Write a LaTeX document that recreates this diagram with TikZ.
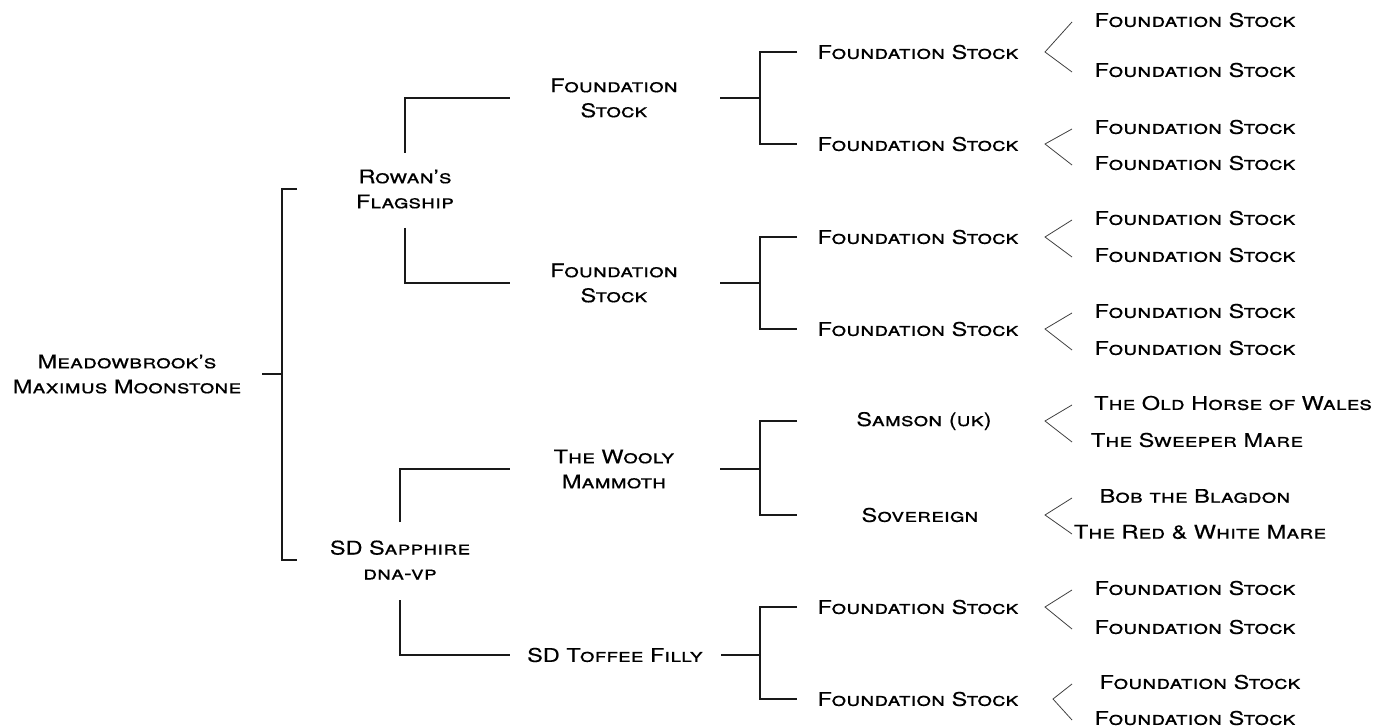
\documentclass[tikz,border=0pt]{standalone}
\usepackage{fontspec}
\setmainfont{TeX Gyre Heros}[FakeStretch=1.25,FakeBold=0.3]
\usetikzlibrary{calc}
\begin{document}
\begin{tikzpicture}[x=0.5pt,y=-0.5pt,
  horse/.style={align=center,inner sep=0pt,font=\scshape\fontsize{9.4}{12.5}\selectfont},
  tree/.style={line width=0.65pt,black!90},
  fork/.style={line width=0.4pt,black!75}]
\useasboundingbox (0,0) rectangle (1377,727);
\node[horse] (root) at (127,374) {Meadowbrook's\\Maximus Moonstone};
\node[horse] (rowan) at (405,189) {Rowan's\\Flagship};
\node[horse] (sapph) at (400,560) {SD Sapphire\\dna-vp};
\node[horse] (a1) at (614,98) {Foundation\\Stock};
\node[horse] (a2) at (614,283) {Foundation\\Stock};
\node[horse] (a3) at (614,469) {The Wooly\\Mammoth};
\node[horse] (a4) at (615,655) {SD Toffee Filly};
\node[horse] (b1) at (918,52) {Foundation Stock};
\node[horse] (b2) at (918,144) {Foundation Stock};
\node[horse] (b3) at (918,237) {Foundation Stock};
\node[horse] (b4) at (918,329) {Foundation Stock};
\node[horse] (b5) at (924,421) {Samson (uk)};
\node[horse] (b6) at (920,515) {Sovereign};
\node[horse] (b7) at (918,607) {Foundation Stock};
\node[horse] (b8) at (918,699) {Foundation Stock};
\node[horse] (c1) at (1195,20) {Foundation Stock};
\node[horse] (c2) at (1195,70) {Foundation Stock};
\node[horse] (c3) at (1195,127) {Foundation Stock};
\node[horse] (c4) at (1195,163) {Foundation Stock};
\node[horse] (c5) at (1195,218) {Foundation Stock};
\node[horse] (c6) at (1195,255) {Foundation Stock};
\node[horse] (c7) at (1195,311) {Foundation Stock};
\node[horse] (c8) at (1195,348) {Foundation Stock};
\node[horse] (c9) at (1233,403) {The Old Horse of Wales};
\node[horse] (c10) at (1197,440) {The Sweeper Mare};
\node[horse] (c11) at (1195,496) {Bob the Blagdon};
\node[horse] (c12) at (1200,532) {The Red \& White Mare};
\node[horse] (c13) at (1195,588) {Foundation Stock};
\node[horse] (c14) at (1195,627) {Foundation Stock};
\node[horse] (c15) at (1200,682) {Foundation Stock};
\node[horse] (c16) at (1195,718) {Foundation Stock};
\coordinate (j0) at (282,0);
\coordinate (s) at (760,0);
\coordinate (t) at (797,0);
\coordinate (e) at (1072,0);
\draw[tree] ([xshift=-10pt]j0 |- root) -- (j0 |- root);
\draw[tree] ([xshift=7.5pt]j0 |- rowan) -- (j0 |- rowan) -- (j0 |- sapph) -- ([xshift=7.5pt]j0 |- sapph);
\draw[tree] ($(rowan)+(0,-36)$) |- ($(a1)+(-104,0)$);
\draw[tree] ($(rowan)+(0,39)$) |- ($(a2)+(-104,0)$);
\draw[tree] ($(sapph)+(0,-38)$) |- ($(a3)+(-104,0)$);
\draw[tree] ($(sapph)+(0,40)$) |- ($(a4)+(-105,0)$);
\foreach \p/\u/\l in {a1/b1/b2,a2/b3/b4,a3/b5/b6,a4/b7/b8}
  \draw[tree] ($(\p)+(106,0)$) -- (s |- \p) (t |- \u) -- (s |- \u) -- (s |- \l) -- (t |- \l);
\foreach \k/\u/\l/\x in {b1/c1/c2/1045,b2/c3/c4/1045,b3/c5/c6/1045,b4/c7/c8/1045,b5/c9/c10/1045,b6/c11/c12/1045,b7/c13/c14/1045,b8/c15/c16/1053}
  \draw[fork] ([yshift=-1pt]e |- \u) -- (\x,0 |- \k) -- ([yshift=-1pt]e |- \l);
\end{tikzpicture}
\end{document}
